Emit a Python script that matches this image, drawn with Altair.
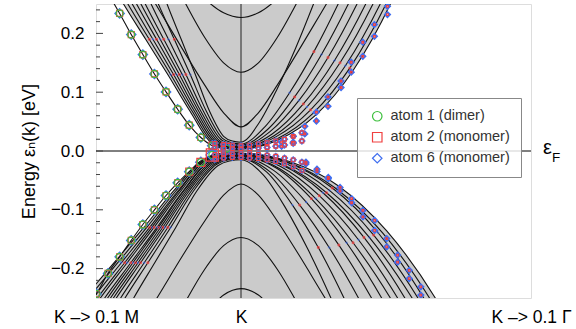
import altair as alt
import pandas as pd

# x: -1 = "K -> 0.1 M", 0 = K, 2 = "K -> 0.1 Γ";  y: energy in eV
X_TICKS = [-1, 0, 2]
X_LABELS = ["K \u2013> 0.1 M", "K", "K \u2013> 0.1 \u0393"]
Y_TICKS = [-0.2, -0.1, 0.0, 0.1, 0.2]
Y_MINOR = [-0.24, -0.22, -0.18, -0.16, -0.14, -0.12, -0.08, -0.06, -0.04, -0.02,
           0.02, 0.04, 0.06, 0.08, 0.12, 0.14, 0.16, 0.18, 0.22, 0.24]

# conduction bands (k, E)
COND_K = [
    [-0.4, -0.25, -0.12, 0, 0.12, 0.25, 0.4],
    [-0.55, -0.4, -0.25, -0.12, 0, 0.12, 0.25, 0.4, 0.55],
    [-0.7, -0.55, -0.4, -0.25, -0.12, 0, 0.12, 0.25, 0.4, 0.55, 0.7],
    [-0.627, -0.51, -0.4125, -0.315, -0.2175, -0.12, -0.06, 0, 0.125, 0.25, 0.375, 0.50, 0.60],
    [-0.702, -0.57, -0.46, -0.35, -0.24, -0.13, -0.065, 0, 0.168, 0.335, 0.503, 0.67, 0.804],
    [-0.764, -0.62, -0.50, -0.38, -0.26, -0.14, -0.07, 0, 0.185, 0.37, 0.555, 0.74, 0.888],
    [-0.813, -0.66, -0.5325, -0.405, -0.2775, -0.15, -0.075, 0, 0.20, 0.40, 0.60, 0.80, 0.96],
    [-0.849, -0.69, -0.5575, -0.425, -0.2925, -0.16, -0.08, 0, 0.215, 0.43, 0.645, 0.86, 1.032],
    [-0.885, -0.72, -0.5825, -0.445, -0.3075, -0.17, -0.085, 0, 0.228, 0.455, 0.683, 0.91, 1.092],
    [-0.921, -0.75, -0.6075, -0.465, -0.3225, -0.18, -0.09, 0, 0.24, 0.48, 0.72, 0.96, 1.152],
    [-0.957, -0.78, -0.6325, -0.485, -0.3375, -0.19, -0.095, 0, 0.25, 0.50, 0.75, 1.00, 1.20],
    [-0.993, -0.81, -0.6575, -0.505, -0.3525, -0.20, -0.10, 0, 0.258, 0.515, 0.773, 1.03, 1.236],
]
COND_E = [
    [0.302, 0.259, 0.235, 0.227, 0.235, 0.259, 0.302],
    [0.333, 0.259, 0.193, 0.150, 0.134, 0.150, 0.193, 0.259, 0.333],
    [0.296, 0.234, 0.172, 0.112, 0.065, 0.041, 0.065, 0.112, 0.172, 0.234, 0.296],
    [0.33, 0.25, 0.19, 0.13, 0.068, 0.025, 0.017, 0.015, 0.048, 0.106, 0.174, 0.25, 0.315],
    [0.33, 0.25, 0.19, 0.13, 0.068, 0.022, 0.014, 0.012, 0.042, 0.099, 0.169, 0.25, 0.321],
    [0.33, 0.25, 0.19, 0.13, 0.068, 0.020, 0.012, 0.010, 0.037, 0.092, 0.164, 0.25, 0.327],
    [0.33, 0.25, 0.19, 0.13, 0.068, 0.018, 0.010, 0.008, 0.033, 0.086, 0.159, 0.25, 0.334],
    [0.33, 0.25, 0.19, 0.13, 0.068, 0.017, 0.009, 0.007, 0.029, 0.080, 0.154, 0.25, 0.341],
    [0.33, 0.25, 0.19, 0.13, 0.068, 0.016, 0.008, 0.006, 0.026, 0.075, 0.150, 0.25, 0.348],
    [0.33, 0.25, 0.19, 0.13, 0.068, 0.015, 0.007, 0.005, 0.024, 0.070, 0.145, 0.25, 0.355],
    [0.33, 0.25, 0.19, 0.13, 0.068, 0.014, 0.006, 0.004, 0.021, 0.065, 0.141, 0.25, 0.362],
    [0.33, 0.25, 0.19, 0.13, 0.068, 0.013, 0.005, 0.003, 0.019, 0.061, 0.137, 0.25, 0.370],
]

# valence bands
VAL_K = [
    [-0.25, -0.12, 0, 0.12, 0.25],
    [-0.55, -0.4, -0.25, -0.12, 0, 0.12, 0.25, 0.4, 0.55],
    [-0.7, -0.55, -0.4, -0.25, -0.12, 0, 0.12, 0.25, 0.4, 0.55, 0.7],
    [-0.914, -0.74, -0.595, -0.45, -0.305, -0.16, -0.08, 0, 0.155, 0.31, 0.465, 0.62, 0.744],
    [-0.989, -0.80, -0.6425, -0.485, -0.3275, -0.17, -0.085, 0, 0.178, 0.355, 0.533, 0.71, 0.852],
    [-1.025, -0.83, -0.6675, -0.505, -0.3425, -0.18, -0.09, 0, 0.203, 0.405, 0.608, 0.81, 0.972],
    [-1.061, -0.86, -0.6925, -0.525, -0.3575, -0.19, -0.095, 0, 0.225, 0.45, 0.675, 0.90, 1.08],
    [-1.084, -0.88, -0.71, -0.54, -0.37, -0.20, -0.10, 0, 0.243, 0.485, 0.728, 0.97, 1.164],
    [-1.107, -0.90, -0.7275, -0.555, -0.3825, -0.21, -0.105, 0, 0.258, 0.515, 0.773, 1.03, 1.236],
    [-1.13, -0.92, -0.745, -0.57, -0.395, -0.22, -0.11, 0, 0.27, 0.54, 0.81, 1.08, 1.296],
    [-1.156, -0.94, -0.76, -0.58, -0.40, -0.22, -0.11, 0, 0.283, 0.565, 0.848, 1.13, 1.356],
    [-1.192, -0.97, -0.785, -0.60, -0.415, -0.23, -0.115, 0, 0.295, 0.59, 0.885, 1.18, 1.416],
    [-1.215, -0.99, -0.8025, -0.615, -0.4275, -0.24, -0.12, 0, 0.305, 0.61, 0.915, 1.22, 1.464],
    [-1.254, -1.02, -0.825, -0.63, -0.435, -0.24, -0.12, 0, 0.315, 0.63, 0.945, 1.26, 1.512],
    [-1.29, -1.05, -0.85, -0.65, -0.45, -0.25, -0.125, 0, 0.325, 0.65, 0.975, 1.30, 1.56],
    [-1.326, -1.08, -0.875, -0.67, -0.465, -0.26, -0.13, 0, 0.335, 0.67, 1.005, 1.34, 1.608],
]
VAL_E = [
    [-0.279, -0.245, -0.234, -0.245, -0.279],
    [-0.335, -0.264, -0.201, -0.161, -0.147, -0.161, -0.201, -0.264, -0.335],
    [-0.299, -0.238, -0.177, -0.119, -0.075, -0.056, -0.075, -0.119, -0.177, -0.238, -0.299],
    [-0.33, -0.25, -0.19, -0.13, -0.068, -0.025, -0.017, -0.015, -0.041, -0.098, -0.169, -0.25, -0.321],
    [-0.33, -0.25, -0.19, -0.13, -0.068, -0.023, -0.015, -0.013, -0.036, -0.092, -0.164, -0.25, -0.327],
    [-0.33, -0.25, -0.19, -0.13, -0.068, -0.022, -0.014, -0.012, -0.036, -0.092, -0.164, -0.25, -0.327],
    [-0.33, -0.25, -0.19, -0.13, -0.068, -0.021, -0.013, -0.011, -0.033, -0.087, -0.160, -0.25, -0.333],
    [-0.33, -0.25, -0.19, -0.13, -0.068, -0.020, -0.012, -0.010, -0.029, -0.081, -0.156, -0.25, -0.339],
    [-0.33, -0.25, -0.19, -0.13, -0.068, -0.019, -0.011, -0.009, -0.029, -0.081, -0.156, -0.25, -0.339],
    [-0.33, -0.25, -0.19, -0.13, -0.068, -0.018, -0.010, -0.008, -0.026, -0.076, -0.151, -0.25, -0.345],
    [-0.33, -0.25, -0.19, -0.13, -0.068, -0.017, -0.009, -0.007, -0.024, -0.071, -0.147, -0.25, -0.351],
    [-0.33, -0.25, -0.19, -0.13, -0.068, -0.016, -0.008, -0.006, -0.024, -0.071, -0.147, -0.25, -0.351],
    [-0.33, -0.25, -0.19, -0.13, -0.068, -0.015, -0.007, -0.005, -0.021, -0.067, -0.143, -0.25, -0.357],
    [-0.33, -0.25, -0.19, -0.13, -0.068, -0.015, -0.007, -0.005, -0.019, -0.063, -0.139, -0.25, -0.364],
    [-0.33, -0.25, -0.19, -0.13, -0.068, -0.014, -0.006, -0.004, -0.019, -0.063, -0.139, -0.25, -0.364],
    [-0.33, -0.25, -0.19, -0.13, -0.068, -0.014, -0.006, -0.004, -0.018, -0.059, -0.136, -0.25, -0.371],
]

# isolated (Dirac-like) band on the K->M side, and its projected weights
DIRAC_UP_K = [-0.997, -0.917, -0.837, -0.757, -0.677, -0.597, -0.517, -0.437, -0.357, -0.277, -0.197, -0.1, 0.0]
DIRAC_UP_E = [0.302, 0.268, 0.234, 0.198, 0.164, 0.131, 0.1005, 0.071, 0.044, 0.023, 0.009, 0.004, 0.002]
DIRAC_LO_K = [-1.05, -0.997, -0.917, -0.837, -0.757, -0.677, -0.597, -0.517, -0.437, -0.357, -0.277, -0.197, -0.1, 0.0]
DIRAC_LO_E = [-0.262, -0.243, -0.208, -0.180, -0.152, -0.125, -0.100, -0.0757, -0.0542, -0.0351, -0.0192, -0.0068, -0.003, -0.002]
DIRAC_SQ = [36, 36, 36, 36, 36, 36, 36, 36, 36, 49, 110]
DIRAC_DI = [90, 90, 90, 90, 90, 90, 90, 90, 90, 100, 160]
DIRAC_CI = [50, 50, 50, 50, 50, 50, 50, 50, 50, 50, 50]
DIRAC_LO_SQ = [36, 36, 36, 36, 36, 36, 36, 36, 49, 64, 150]
DIRAC_LO_DI = [90, 90, 90, 90, 90, 90, 90, 90, 90, 110, 170]

# dense weights around K (four rows of k-points)
CL_K = [-0.18, -0.12, -0.06, 0.0, 0.06, 0.12, 0.18, 0.24, 0.30, 0.36, 0.42]
CL_E_UP1 = [0.013, 0.011, 0.010, 0.009, 0.010, 0.012, 0.014, 0.017, 0.020, 0.025, 0.031]
CL_E_UP2 = [0.006, 0.005, 0.004, 0.004, 0.004, 0.005, 0.006, 0.008, 0.010, 0.013, 0.017]
CL_E_LO1 = [-0.006, -0.005, -0.005, -0.005, -0.005, -0.006, -0.007, -0.009, -0.012, -0.015, -0.019]
CL_E_LO2 = [-0.014, -0.012, -0.011, -0.011, -0.012, -0.013, -0.015, -0.018, -0.022, -0.027, -0.033]

# weights on the outer bands, K->Γ side
UP_PAIR_K = [0.28, 0.36, 0.44, 0.52, 0.60, 0.69, 0.76, 0.84, 0.92, 1.01]
UP_PAIR_E1 = [0.015, 0.025, 0.042, 0.066, 0.092, 0.119, 0.151, 0.185, 0.215, 0.246]
UP_PAIR_E2 = [0.008, 0.015, 0.029, 0.051, 0.076, 0.108, 0.134, 0.161, 0.195, 0.232]
LO_PAIR_K = [0.448, 0.524, 0.602, 0.683, 0.763, 0.841, 0.922, 1.005, 1.08, 1.16, 1.24]
LO_PAIR_E1 = [-0.019, -0.031, -0.045, -0.062, -0.081, -0.101, -0.118, -0.149, -0.177, -0.203, -0.231]
LO_PAIR_E2 = [-0.022, -0.035, -0.047, -0.068, -0.088, -0.112, -0.135, -0.163, -0.189, -0.217, -0.245]

ATOMS = ["atom 1 (dimer)", "atom 2 (monomer)", "atom 6 (monomer)"]
COLORS = ["#3cbf3c", "#f04040", "#3f6ef0"]
SHAPES = ["circle", "square", "diamond"]

FONT = "Liberation Sans, Arial, DejaVu Sans"

# ---------- tables ----------
band_rows = []
for n, (ks, es) in enumerate(zip(COND_K, COND_E)):
    for i, (k, e) in enumerate(zip(ks, es)):
        band_rows.append({"band": f"c{n}", "i": i, "k": k, "E": e})
for n, (ks, es) in enumerate(zip(VAL_K, VAL_E)):
    for i, (k, e) in enumerate(zip(ks, es)):
        band_rows.append({"band": f"v{n}", "i": i, "k": k, "E": e})
for i, (k, e) in enumerate(zip(DIRAC_UP_K, DIRAC_UP_E)):
    band_rows.append({"band": "du", "i": i, "k": k, "E": e})
for i, (k, e) in enumerate(zip(DIRAC_LO_K, DIRAC_LO_E)):
    band_rows.append({"band": "dl", "i": i, "k": k, "E": e})
bands = pd.DataFrame(band_rows)

up_edge = pd.DataFrame({"k": COND_K[-1], "E": COND_E[-1]})
lo_edge = pd.DataFrame({"k": VAL_K[-1], "E": VAL_E[-1]})

m = []
for k, e, s_di, s_sq, s_ci in zip(DIRAC_UP_K[1:12], DIRAC_UP_E[1:12], DIRAC_DI, DIRAC_SQ, DIRAC_CI):
    m.append({"k": k, "E": e, "atom": ATOMS[2], "size": s_di})
    m.append({"k": k, "E": e, "atom": ATOMS[1], "size": s_sq})
    m.append({"k": k, "E": e, "atom": ATOMS[0], "size": s_ci})
for k, e, s_di, s_sq, s_ci in zip(DIRAC_LO_K[1:12], DIRAC_LO_E[1:12], DIRAC_LO_DI, DIRAC_LO_SQ, DIRAC_CI):
    m.append({"k": k, "E": e, "atom": ATOMS[2], "size": s_di})
    m.append({"k": k, "E": e, "atom": ATOMS[1], "size": s_sq})
    m.append({"k": k, "E": e, "atom": ATOMS[0], "size": s_ci})
markers = pd.DataFrame(m)

blue, red, tiny = [], [], []
for row in (CL_E_UP1, CL_E_UP2, CL_E_LO1, CL_E_LO2):
    for k, e in zip(CL_K, row):
        blue.append({"k": k, "E": e, "atom": ATOMS[2], "size": 26})
        red.append({"k": k, "E": e, "atom": ATOMS[1], "size": 14})
for kk, e1s, e2s in ((UP_PAIR_K, UP_PAIR_E1, UP_PAIR_E2), (LO_PAIR_K, LO_PAIR_E1, LO_PAIR_E2)):
    for k, e1, e2 in zip(kk, e1s, e2s):
        for e in (e1, e2):
            blue.append({"k": k, "E": e, "atom": ATOMS[2], "size": 26})
            red.append({"k": k, "E": e, "atom": ATOMS[1], "size": 3})
# faint weights on the inner bands (at the band nodes)
for n in range(4, 11):
    for j in (2, 3, 9, 10):
        tiny.append({"k": COND_K[n][j], "E": COND_E[n][j], "atom": ATOMS[(n + j) % 2 + 1], "size": 3})
for n in range(4, 14):
    for j in (2, 3, 9, 10):
        tiny.append({"k": VAL_K[n][j], "E": VAL_E[n][j], "atom": ATOMS[(n + j) % 2 + 1], "size": 3})
blue_df, red_df, tiny_df = pd.DataFrame(blue), pd.DataFrame(red), pd.DataFrame(tiny)

label_expr = " : ".join(
    f"datum.value == {v} ? '{t}'" for v, t in zip(X_TICKS[:-1], X_LABELS[:-1])
) + f" : '{X_LABELS[-1]}'"

xs = alt.Scale(domain=[-1, 2], nice=False, zero=False)
ys = alt.Scale(domain=[-0.25, 0.25], nice=False, zero=False)

x_axis = alt.Axis(values=X_TICKS, labelExpr=label_expr, title=None, grid=False, domain=False,
                  ticks=False, tickSize=0, labelFontSize=17.5, labelPadding=10, labelFont=FONT,
                  labelColor="#000", labelOverlap=False, labelBound=False, labelFlush=False)
y_axis = alt.Axis(values=Y_TICKS, format=".1f", title="Energy \u03b5\u2099(k) [eV]", grid=False,
                  domain=False, ticks=False, tickSize=0, labelFontSize=17, labelPadding=12,
                  labelFont=FONT, labelColor="#000", titleFont=FONT, titleFontSize=18,
                  titleFontWeight="normal", titleColor="#000", titlePadding=12)

upper_fill = alt.Chart(up_edge).mark_area(color="#cbcbcb", interpolate="monotone", clip=True).encode(
    x=alt.X("k:Q", scale=xs, axis=x_axis), y=alt.Y("E:Q", scale=ys, axis=y_axis), y2=alt.datum(0.3))
lower_fill = alt.Chart(lo_edge).mark_area(color="#cbcbcb", interpolate="monotone", clip=True).encode(
    x=alt.X("k:Q", scale=xs), y=alt.Y("E:Q", scale=ys), y2=alt.datum(-0.3))

zero_line = alt.Chart(pd.DataFrame({"E": [0.0]})).mark_rule(color="#000", strokeWidth=1).encode(
    y=alt.Y("E:Q", scale=ys))
k_line = alt.Chart(pd.DataFrame({"k": [0.0]})).mark_rule(color="#222", strokeWidth=1).encode(
    x=alt.X("k:Q", scale=xs))

lines = alt.Chart(bands).mark_line(color="#111", strokeWidth=1.1, interpolate="monotone", clip=True).encode(
    x=alt.X("k:Q", scale=xs), y=alt.Y("E:Q", scale=ys), detail="band:N", order="i:Q")

leg = dict(title=None, orient="none", legendX=261, legendY=94,
           fillColor="rgba(255,255,255,0.82)", strokeColor="#888",
           padding=11, labelFontSize=14.5, labelFont=FONT, labelColor="#333",
           symbolSize=90, symbolStrokeWidth=1.2, rowPadding=5, symbolOffset=2,
           labelOffset=6)


def point_layer(df, sw):
    return alt.Chart(df).mark_point(filled=False, strokeWidth=sw, clip=True, opacity=1).encode(
        x=alt.X("k:Q", scale=xs), y=alt.Y("E:Q", scale=ys),
        color=alt.Color("atom:N", scale=alt.Scale(domain=ATOMS, range=COLORS), legend=alt.Legend(**leg)),
        shape=alt.Shape("atom:N", scale=alt.Scale(domain=ATOMS, range=SHAPES), legend=alt.Legend(**leg)),
        size=alt.Size("size:Q", scale=None, legend=None),
    )


pts = point_layer(markers, 1.2)
blue_pts = point_layer(blue_df, 1.9)
red_pts = point_layer(red_df, 1.1)
tiny_pts = point_layer(tiny_df, 0.9)

ytick_major = alt.Chart(pd.DataFrame({"E": Y_TICKS})).mark_rule(color="#444", strokeWidth=1).encode(
    y=alt.Y("E:Q", scale=ys), x=alt.value(0), x2=alt.value(7))
ytick_minor = alt.Chart(pd.DataFrame({"E": Y_MINOR})).mark_rule(color="#444", strokeWidth=1).encode(
    y=alt.Y("E:Q", scale=ys), x=alt.value(0), x2=alt.value(4))

eps = alt.Chart(pd.DataFrame({"t": ["\u03b5"]})).mark_text(fontSize=20, font=FONT, color="#000",
                                                          align="left", baseline="middle").encode(
    text="t:N", x=alt.value(447), y=alt.value(144))
eps_sub = alt.Chart(pd.DataFrame({"t": ["F"]})).mark_text(fontSize=13.5, font=FONT, color="#000",
                                                         align="left", baseline="middle").encode(
    text="t:N", x=alt.value(456), y=alt.value(154))

chart = alt.layer(upper_fill, lower_fill, k_line, lines, zero_line, tiny_pts, pts, blue_pts, red_pts,
                  ytick_major, ytick_minor, eps, eps_sub).properties(
    width=435, height=294,
    padding={"left": 96, "top": 4, "right": 45, "bottom": 31},
    autosize=alt.AutoSizeParams(type="none"),
).configure_view(stroke="#444", strokeWidth=1.2).configure(background="white")

chart.save("out.html", embed_options={"renderer": "svg", "actions": False})
